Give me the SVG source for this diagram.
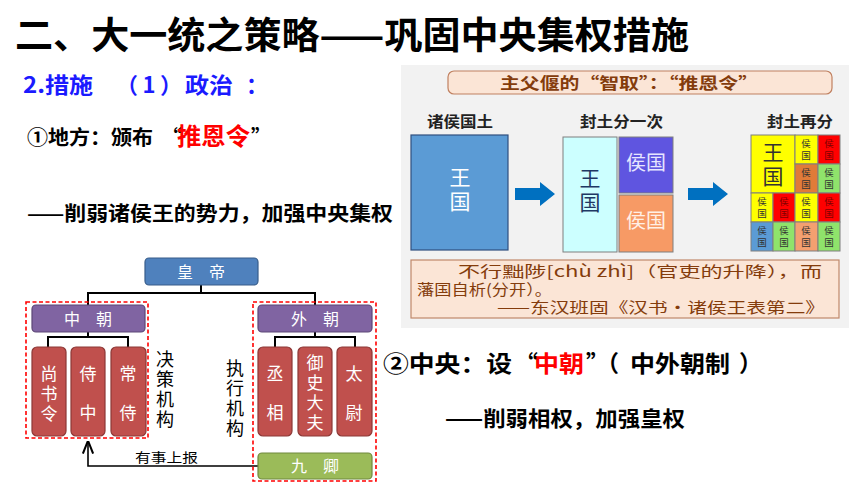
<svg xmlns="http://www.w3.org/2000/svg" width="860" height="484" viewBox="0 0 860 484">
<defs>
<style>
text{font-family:"Noto Sans CJK SC","Liberation Sans",sans-serif}
.b{font-weight:bold}
.box{stroke-width:1.2}
.wt{fill:#fff;font-size:16px;text-anchor:middle}
.vt{fill:#fff;font-size:17px;text-anchor:middle}
.conn{fill:none;stroke:#000;stroke-width:2}
.dash{fill:none;stroke:#ff0000;stroke-width:1.6;stroke-dasharray:4 2.5}
.cell{stroke:#7f7f7f;stroke-width:1}
.ct{font-size:9.5px;text-anchor:middle;fill:#333}
.q{fill:#843c0c;font-size:15px}
.h{font-size:15px;font-weight:bold;fill:#222}
.lab{font-size:18px;fill:#000;text-anchor:middle}
</style>
<marker id="ah" viewBox="0 0 10 10" refX="9" refY="5" markerWidth="8" markerHeight="8" orient="auto">
<path d="M0,1 L10,5 L0,9" fill="none" stroke="#000" stroke-width="1.6"/>
</marker>
</defs>
<rect width="860" height="484" fill="#fff"/>

<g id="title">
<text x="15" y="49" font-size="37" class="b" fill="#000" textLength="674" lengthAdjust="spacingAndGlyphs">二、大一统之策略——巩固中央集权措施</text>
</g>
<g id="heading">
<text y="93" font-size="22" class="b" fill="#1a1aff"><tspan x="23" textLength="70" lengthAdjust="spacingAndGlyphs">2.措施</tspan><tspan x="116" textLength="66" lengthAdjust="spacing">（1）</tspan><tspan x="185" textLength="48" lengthAdjust="spacingAndGlyphs">政治</tspan><tspan x="246">：</tspan></text>
</g>
<g id="local">
<text y="145" class="b" fill="#000" font-size="20"><tspan x="27" textLength="126" lengthAdjust="spacingAndGlyphs">①地方：颁布</tspan><tspan x="162">“</tspan><tspan x="177" font-size="24" fill="#ff0000" textLength="73" lengthAdjust="spacingAndGlyphs">推恩令</tspan><tspan x="251">”</tspan></text>
<text x="27" y="221" font-size="20" class="b" fill="#000" textLength="366" lengthAdjust="spacingAndGlyphs">——削弱诸侯王的势力，加强中央集权</text>
</g>
<g id="central">
<text y="372" class="b" fill="#000" font-size="23"><tspan x="383" textLength="129" lengthAdjust="spacingAndGlyphs">②中央：设</tspan><tspan x="515">“</tspan><tspan x="534" fill="#ff0000" textLength="50" lengthAdjust="spacingAndGlyphs">中朝</tspan><tspan x="586">”</tspan><tspan x="596">（</tspan><tspan x="630" textLength="100" lengthAdjust="spacingAndGlyphs">中外朝制</tspan><tspan x="739">）</tspan></text>
<text x="445" y="426" font-size="21" class="b" fill="#000" textLength="240" lengthAdjust="spacingAndGlyphs">——削弱相权，加强皇权</text>
</g>

<g id="panel">
<rect x="401" y="65" width="448" height="263" fill="#f2f2f2"/>
<rect x="448" y="71" width="384" height="23" rx="6" fill="#fbe5d6" stroke="#c08060" stroke-width="1.2"/>
<text x="500" y="89" font-size="16" class="b" fill="#843c0c" textLength="258" lengthAdjust="spacingAndGlyphs">主父偃的“智取”：“推恩令”</text>
<text x="427" y="127" class="h" textLength="66" lengthAdjust="spacingAndGlyphs">诸侯国土</text>
<text x="580" y="127" class="h" textLength="83" lengthAdjust="spacingAndGlyphs">封土分一次</text>
<text x="767" y="127" class="h" textLength="66" lengthAdjust="spacingAndGlyphs">封土再分</text>
</g>

<g id="land1">
<rect x="411" y="135" width="97" height="115" fill="#5b9bd5" stroke="#2f4f7f" stroke-width="1.2"/>
<text x="460" y="185" font-size="21" fill="#fff" text-anchor="middle">王</text>
<text x="460" y="209" font-size="21" fill="#fff" text-anchor="middle">国</text>
</g>

<g id="arrows">
<path d="M515,188 H540 V182 L555,194 L540,206 V200 H515 Z" fill="#0070c0"/>
<path d="M688,188 H713 V182 L728,194 L713,206 V200 H688 Z" fill="#0070c0"/>
</g>

<g id="land2">
<rect x="563" y="137" width="54" height="115" fill="#ccffff" stroke="#7f7f7f" stroke-width="1"/>
<text x="590" y="186" font-size="21" fill="#1f3864" text-anchor="middle">王</text>
<text x="590" y="210" font-size="21" fill="#1f3864" text-anchor="middle">国</text>
<rect x="619" y="137" width="54" height="56" fill="#5f55e0" stroke="#7f7f7f" stroke-width="1"/>
<text x="646" y="170" font-size="20" fill="#e6e6ff" text-anchor="middle">侯国</text>
<rect x="619" y="195" width="54" height="57" fill="#f79a65" stroke="#7f7f7f" stroke-width="1"/>
<text x="646" y="228" font-size="20" fill="#fff0e6" text-anchor="middle">侯国</text>
</g>

<g id="land3">
<rect x="751" y="135" width="44" height="58" fill="#ffff00" class="cell"/>
<text x="773" y="160" font-size="21" fill="#333" text-anchor="middle">王</text>
<text x="773" y="184" font-size="21" fill="#333" text-anchor="middle">国</text>
<rect x="795" y="135" width="23" height="29" fill="#ffff00" class="cell"/>
<rect x="818" y="135" width="22" height="29" fill="#ff0000" class="cell"/>
<rect x="795" y="164" width="23" height="29" fill="#e07b39" class="cell"/>
<rect x="818" y="164" width="22" height="29" fill="#8fe36b" class="cell"/>
<rect x="751" y="193" width="22" height="29" fill="#ffff00" class="cell"/>
<rect x="773" y="193" width="22" height="29" fill="#ff0000" class="cell"/>
<rect x="795" y="193" width="23" height="29" fill="#ffff00" class="cell"/>
<rect x="818" y="193" width="22" height="29" fill="#ff0000" class="cell"/>
<rect x="751" y="222" width="22" height="29" fill="#5b9bd5" class="cell"/>
<rect x="773" y="222" width="22" height="29" fill="#8fe36b" class="cell"/>
<rect x="795" y="222" width="23" height="29" fill="#f4a070" class="cell"/>
<rect x="818" y="222" width="22" height="29" fill="#8fe36b" class="cell"/>
<g class="ct">
<text x="806" y="147">侯</text><text x="806" y="159">国</text>
<text x="829" y="147" fill="#7f0000">侯</text><text x="829" y="159" fill="#7f0000">国</text>
<text x="806" y="176">侯</text><text x="806" y="188">国</text>
<text x="829" y="176">侯</text><text x="829" y="188">国</text>
<text x="762" y="205">侯</text><text x="762" y="217">国</text>
<text x="784" y="205" fill="#7f0000">侯</text><text x="784" y="217" fill="#7f0000">国</text>
<text x="806" y="205">侯</text><text x="806" y="217">国</text>
<text x="829" y="205" fill="#7f0000">侯</text><text x="829" y="217" fill="#7f0000">国</text>
<text x="762" y="234">侯</text><text x="762" y="246">国</text>
<text x="784" y="234">侯</text><text x="784" y="246">国</text>
<text x="806" y="234">侯</text><text x="806" y="246">国</text>
<text x="829" y="234">侯</text><text x="829" y="246">国</text>
</g>
</g>

<g id="quote">
<rect x="411" y="260" width="428" height="58" fill="#fbe5d6" stroke="#c0886a" stroke-width="1.2"/>
<text x="458" y="277" class="q" textLength="364" lengthAdjust="spacingAndGlyphs">不行黜陟[chù zhì]（官吏的升降），而</text>
<text x="417" y="295" class="q" textLength="135" lengthAdjust="spacingAndGlyphs">藩国自析(分开）。</text>
<text x="497" y="313" class="q" textLength="328" lengthAdjust="spacingAndGlyphs">——东汉班固《汉书·诸侯王表第二》</text>
</g>

<g id="connectors">
<path class="conn" d="M201,285 V293 M88,305 V293 H315 V305"/>
<path class="conn" d="M88,332 V337 M48,347 V337 H128 V347"/>
<path class="conn" d="M315,332 V337 M275,347 V337 H355 V347"/>
<path d="M258,466 H88 V442" fill="none" stroke="#000" stroke-width="1.6" marker-end="url(#ah)"/>
<text x="135" y="462" font-size="13" fill="#000" textLength="63" lengthAdjust="spacingAndGlyphs">有事上报</text>
</g>

<g id="groups">
<rect class="dash" x="26" y="302" width="122" height="136"/>
<rect class="dash" x="253" y="302" width="123" height="179"/>
<text x="165" y="366" class="lab">决</text>
<text x="165" y="386" class="lab">策</text>
<text x="165" y="406" class="lab">机</text>
<text x="165" y="426" class="lab">构</text>
<text x="235" y="375" class="lab">执</text>
<text x="235" y="395" class="lab">行</text>
<text x="235" y="415" class="lab">机</text>
<text x="235" y="435" class="lab">构</text>
</g>

<g id="emperor">
<rect x="145" y="258" width="113" height="27" rx="4" fill="#4f81bd" stroke="#385d8a" class="box"/>
<text x="201" y="278" class="wt">皇　帝</text>
</g>
<g id="inner-court">
<rect x="32" y="305" width="113" height="27" rx="4" fill="#8064a2" stroke="#5c4776" class="box"/>
<text x="88" y="325" class="wt">中　朝</text>
</g>
<g id="outer-court">
<rect x="258" y="305" width="114" height="27" rx="4" fill="#8064a2" stroke="#5c4776" class="box"/>
<text x="315" y="325" class="wt">外　朝</text>
</g>
<g id="shangshuling">
<rect x="32" y="347" width="34" height="89" rx="5" fill="#c0504d" stroke="#8c3836" class="box"/>
<text x="49" y="380" class="vt">尚</text><text x="49" y="400" class="vt">书</text><text x="49" y="420" class="vt">令</text>
</g>
<g id="shizhong">
<rect x="71" y="347" width="34" height="89" rx="5" fill="#c0504d" stroke="#8c3836" class="box"/>
<text x="88" y="380" class="vt">侍</text><text x="88" y="419" class="vt">中</text>
</g>
<g id="changshi">
<rect x="111" y="347" width="35" height="89" rx="5" fill="#c0504d" stroke="#8c3836" class="box"/>
<text x="128" y="380" class="vt">常</text><text x="128" y="419" class="vt">侍</text>
</g>
<g id="chengxiang">
<rect x="258" y="347" width="34" height="89" rx="5" fill="#c0504d" stroke="#8c3836" class="box"/>
<text x="275" y="380" class="vt">丞</text><text x="275" y="419" class="vt">相</text>
</g>
<g id="yushidafu">
<rect x="298" y="347" width="34" height="89" rx="5" fill="#c0504d" stroke="#8c3836" class="box"/>
<text x="315" y="369" class="vt">御</text><text x="315" y="389" class="vt">史</text><text x="315" y="409" class="vt">大</text><text x="315" y="429" class="vt">夫</text>
</g>
<g id="taiwei">
<rect x="337" y="347" width="35" height="89" rx="5" fill="#c0504d" stroke="#8c3836" class="box"/>
<text x="354" y="380" class="vt">太</text><text x="354" y="419" class="vt">尉</text>
</g>
<g id="jiuqing">
<rect x="258" y="453" width="114" height="26" rx="4" fill="#9bbb59" stroke="#71893f" class="box"/>
<text x="315" y="472" class="wt">九　卿</text>
</g>
</svg>
